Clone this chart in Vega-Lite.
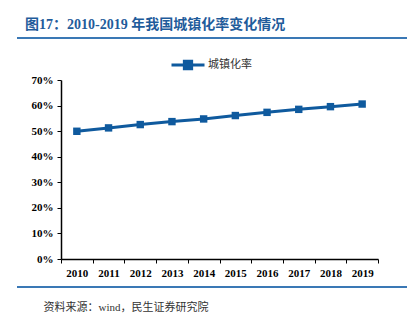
{
  "$schema": "https://vega.github.io/schema/vega-lite/v6.json",
  "autosize": "none",
  "width": 317,
  "height": 179,
  "padding": {"left": 61, "top": 80, "right": 37, "bottom": 65},
  "background": "white",
  "config": {"view": {"stroke": null}},
  "title": {
    "text": "图17：2010-2019 年我国城镇化率变化情况",
    "anchor": "start",
    "frame": "group",
    "dx": -36,
    "dy": 16,
    "font": "Liberation Serif, Noto Sans CJK SC",
    "fontSize": 14,
    "fontWeight": "bold",
    "color": "#1F5C9B",
    "baseline": "alphabetic",
    "offset": 10
  },
  "data": {
    "values": [
      {"year": "2010", "rate": 0.4995, "series": "城镇化率"},
      {"year": "2011", "rate": 0.5127, "series": "城镇化率"},
      {"year": "2012", "rate": 0.5257, "series": "城镇化率"},
      {"year": "2013", "rate": 0.5373, "series": "城镇化率"},
      {"year": "2014", "rate": 0.5477, "series": "城镇化率"},
      {"year": "2015", "rate": 0.561, "series": "城镇化率"},
      {"year": "2016", "rate": 0.5735, "series": "城镇化率"},
      {"year": "2017", "rate": 0.5852, "series": "城镇化率"},
      {"year": "2018", "rate": 0.5958, "series": "城镇化率"},
      {"year": "2019", "rate": 0.606, "series": "城镇化率"}
    ]
  },
  "layer": [
    {
      "mark": {"type": "line", "strokeWidth": 3, "point": {"shape": "square", "size": 55, "filled": true, "opacity": 1}},
      "encoding": {
        "x": {
          "field": "year", "type": "ordinal", "bandPosition": 0.5,
          "scale": {"type": "band", "paddingInner": 0, "paddingOuter": 0},
          "axis": {
            "title": "资料来源：wind，民生证券研究院",
            "titleX": -18, "titleY": 51, "titleAlign": "left", "titleAnchor": null,
            "titleBaseline": "alphabetic",
            "titleFont": "Liberation Serif, Noto Sans CJK SC", "titleFontSize": 11, "titleFontWeight": "normal", "titleColor": "#333333",
            "labelAngle": 0, "labelFont": "Liberation Serif", "labelFontSize": 11, "labelFontWeight": "bold", "labelColor": "#000000",
            "labelPadding": 4,
            "tickBand": "extent", "tickColor": "#000000", "tickSize": 4,
            "domainColor": "#000000", "domainWidth": 1.5, "grid": false
          }
        },
        "y": {
          "field": "rate", "type": "quantitative",
          "scale": {"domain": [0, 0.7]},
          "axis": {
            "title": null, "values": [0, 0.1, 0.2, 0.3, 0.4, 0.5, 0.6, 0.7], "format": ".0%",
            "labelFont": "Liberation Serif", "labelFontSize": 11, "labelFontWeight": "bold", "labelColor": "#000000",
            "labelPadding": 4, "tickColor": "#000000", "tickSize": 4,
            "domainColor": "#000000", "domainWidth": 1.5, "grid": false
          }
        },
        "color": {
          "field": "series", "type": "nominal",
          "scale": {"range": ["#0F5A9E"]},
          "legend": {
            "title": null, "orient": "none", "legendX": 109, "legendY": -33,
            "symbolType": "M-1,0H1M-0.22,-0.22H0.22V0.22H-0.22Z",
            "symbolSize": 1089, "symbolStrokeWidth": 3, "symbolFillColor": "#0F5A9E", "symbolStrokeColor": "#0F5A9E",
            "labelFont": "Noto Sans CJK SC", "labelFontSize": 11, "labelColor": "#333333", "labelOffset": 2
          }
        }
      }
    },
    {
      "data": {"values": [{"pos": "top"}]},
      "mark": {"type": "rule", "color": "#3A78B5", "strokeWidth": 2},
      "encoding": {"x": {"value": -44}, "x2": {"value": 346}, "y": {"value": -42}}
    },
    {
      "data": {"values": [{"pos": "bottom"}]},
      "mark": {"type": "rule", "color": "#3A78B5", "strokeWidth": 2},
      "encoding": {"x": {"value": -44}, "x2": {"value": 346}, "y": {"value": 207}}
    }
  ]
}
